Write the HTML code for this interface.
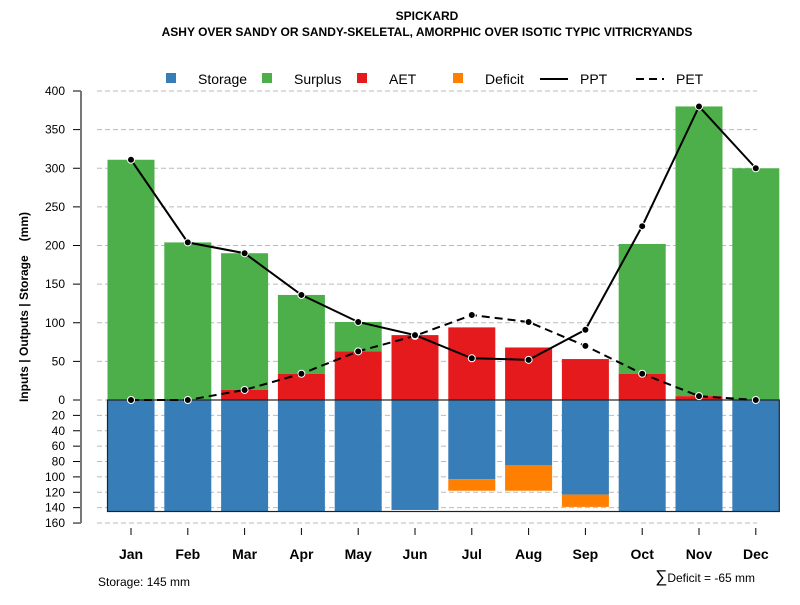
<!DOCTYPE html>
<html><head><meta charset="utf-8"><style>
body{margin:0;background:#fff;font-family:"Liberation Sans",sans-serif}
svg text{font-family:"Liberation Sans",sans-serif}
</style></head><body>
<svg id="chart" width="800" height="600" xmlns="http://www.w3.org/2000/svg">
<text x="427" y="20" font-size="12" font-weight="bold" text-anchor="middle">SPICKARD</text>
<text x="427" y="36" font-size="12" font-weight="bold" text-anchor="middle">ASHY OVER SANDY OR SANDY-SKELETAL, AMORPHIC OVER ISOTIC TYPIC VITRICRYANDS</text>
<g id="legend">
<rect x="166" y="73" width="10" height="10" fill="#377eb8"/>
<text x="198" y="84" font-size="14">Storage</text>
<rect x="262" y="73" width="10" height="10" fill="#4daf4a"/>
<text x="294" y="84" font-size="14">Surplus</text>
<rect x="357" y="73" width="10" height="10" fill="#e41a1c"/>
<text x="389" y="84" font-size="14">AET</text>
<rect x="453" y="73" width="10" height="10" fill="#ff7f00"/>
<text x="485" y="84" font-size="14">Deficit</text>
<line x1="540" y1="79" x2="568" y2="79" stroke="#000" stroke-width="2"/>
<text x="580" y="84" font-size="14">PPT</text>
<line x1="636" y1="79" x2="664" y2="79" stroke="#000" stroke-width="2" stroke-dasharray="8,5"/>
<text x="676" y="84" font-size="14">PET</text>
</g>
<text transform="translate(28,307) rotate(-90)" font-size="12" font-weight="bold" text-anchor="middle">Inputs | Outputs | Storage<tspan dx="14">(mm)</tspan></text>
<text x="98" y="586" font-size="12">Storage: 145 mm</text>
<text x="755" y="582" font-size="12" text-anchor="end"><tspan font-size="17">∑</tspan>Deficit = -65 mm</text>
<g id="grid"></g><g id="bars"></g><g id="axes"></g><g id="lines"></g>
</svg>
<script>
const months=["Jan","Feb","Mar","Apr","May","Jun","Jul","Aug","Sep","Oct","Nov","Dec"];
const ppt=[311,204,190,136,101,84,54,52,91,225,380,300];
const pet=[0,0,13,34,63,83,110,101,70,34,5,0];
const aet=[0,0,13,34,63,84,94,68,53,34,5,0];
const surplus=[311,204,177,102,38,0,0,0,0,168,375,300];
const storage=[145,145,145,145,145,143,103,85,123,145,145,145];
const deficit=[0,0,0,0,0,0,15,33,16,0,0,0];
const upTicks=[0,50,100,150,200,250,300,350,400];
const downTicks=[20,40,60,80,100,120,140,160];
const storageMax=145;
const NS="http://www.w3.org/2000/svg";
const X=i=>131+i*56.8;
const Yu=v=>400-v*0.7725;
const Yd=v=>400+v*0.769;
const BW=47;
function mk(tag,attrs,parent){const e=document.createElementNS(NS,tag);for(const k in attrs)e.setAttribute(k,attrs[k]);document.getElementById(parent).appendChild(e);return e;}
upTicks.forEach(t=>{
 let g=mk('line',{x1:97,x2:757,y1:Yu(t),y2:Yu(t),stroke:'#bbb','stroke-dasharray':'5,3'},'grid');
 
 
 let k=mk('line',{x1:73,x2:81,y1:Yu(t),y2:Yu(t),stroke:'#000'},'axes');
 
 
 let l=mk('text',{x:65,y:Yu(t)+4,'font-size':12,'text-anchor':'end'},'axes');l.textContent=t;
 
 
});
downTicks.forEach(t=>{
 let g=mk('line',{x1:97,x2:757,y1:Yd(t),y2:Yd(t),stroke:'#bbb','stroke-dasharray':'5,3'},'grid');
 
 
 let k=mk('line',{x1:73,x2:81,y1:Yd(t),y2:Yd(t),stroke:'#000'},'axes');
 
 
 let l=mk('text',{x:65,y:Yd(t)+4,'font-size':12,'text-anchor':'end'},'axes');l.textContent=t;
 
 
});
let ax=mk('line',{x1:81,x2:81,y1:Yu(400),y2:Yd(160),stroke:'#777','stroke-width':2},'axes');


months.forEach((m,i)=>{
 const x=X(i)-BW/2;
 let s=mk('rect',{x:x,y:Yu(aet[i]+surplus[i]),width:BW,height:Yu(aet[i])-Yu(aet[i]+surplus[i]),fill:'#4daf4a'},'bars');
 
 
 let a=mk('rect',{x:x,y:Yu(aet[i]),width:BW,height:400-Yu(aet[i]),fill:'#e41a1c'},'bars');
 
 
 let st=mk('rect',{x:x,y:400,width:BW,height:Yd(storage[i])-400,fill:'#377eb8'},'bars');
 
 
 if(deficit[i]>0){
  let d=mk('rect',{x:x,y:Yd(storage[i]),width:BW,height:Yd(storage[i]+deficit[i])-Yd(storage[i]),fill:'#ff7f00'},'bars');
  
  
 }
 let tk=mk('line',{x1:X(i),x2:X(i),y1:528,y2:535,stroke:'#000'},'axes');
 
 
 let lb=mk('text',{x:X(i),y:559,'font-size':14,'font-weight':'bold','text-anchor':'middle'},'axes');lb.textContent=m;
 
 
});
let bx=mk('rect',{x:X(0)-BW/2,y:400,width:X(11)+BW/2-(X(0)-BW/2),height:Yd(storageMax)-400,fill:'none',stroke:'#222','stroke-width':1.2},'bars');


function series(vals,dash,name){
 const p=mk('polyline',{points:vals.map((v,i)=>X(i)+','+Yu(v)).join(' '),fill:'none',stroke:'#000','stroke-width':2,'stroke-dasharray':dash},'lines');
 
 
 vals.forEach((v,i)=>{
  const c=mk('circle',{cx:X(i),cy:Yu(v),r:3.5,fill:'#000',stroke:'#fff','stroke-width':1},'lines');
  
  
 });
}
series(pet,'8,5','pet');
series(ppt,'none','ppt');
</script>
</body></html>
